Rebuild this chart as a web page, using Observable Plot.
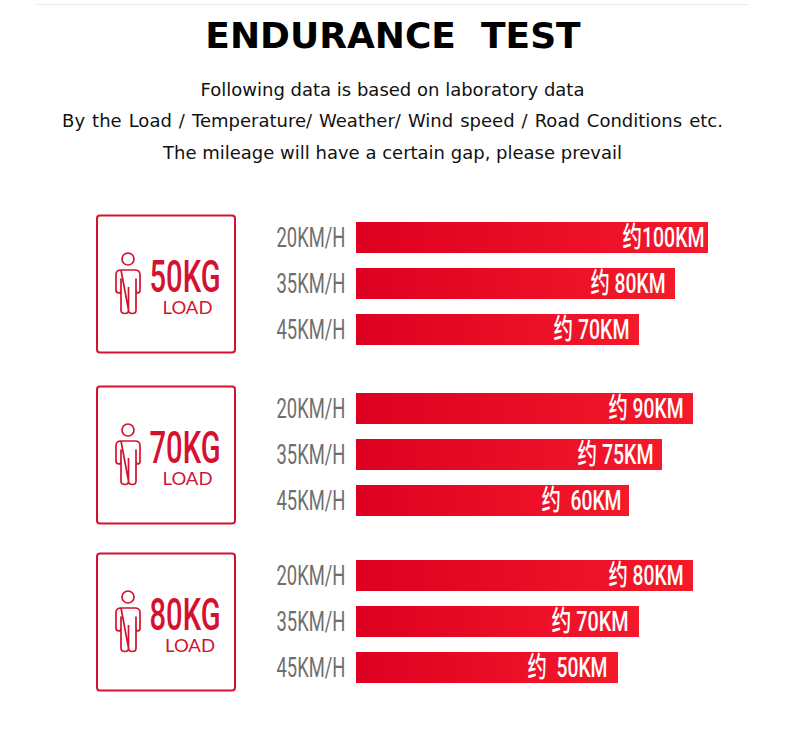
<!DOCTYPE html>
<html>
<head>
<meta charset="utf-8">
<script src="https://cdn.jsdelivr.net/npm/d3@7"></script>
<script src="https://cdn.jsdelivr.net/npm/@observablehq/plot@0.6"></script>
<style>
  html,body{margin:0;padding:0;background:#fff}
  #page{position:relative;width:790px;height:733px;overflow:hidden;font-family:"DejaVu Sans",sans-serif;color:#000}
  #rule{position:absolute;left:37px;width:711px;top:4px;height:1px;background:#e8e8e8}
  h1{position:absolute;left:0;width:786px;top:14px;margin:0;text-align:center;font-size:36px;line-height:44px;font-weight:700;white-space:pre}
  .sub{position:absolute;left:0;width:785px;margin:0;text-align:center;font-size:18px;line-height:24px;color:#111}
  #page svg{position:absolute;left:0;overflow:visible}
  .condensed text{white-space:pre}
</style>
</head>
<body>
<div id="page">
  <div id="rule"></div>
  <h1>ENDURANCE  TEST</h1>
  <p class="sub" style="top:78px">Following data is based on laboratory data</p>
  <p class="sub" style="top:109px;word-spacing:1.3px">By the Load / Temperature/ Weather/ Wind speed / Road Conditions etc.</p>
  <p class="sub" style="top:141px">The mileage will have a certain gap, please prevail</p>
</div>
<script>
const speeds = ["20KM/H", "35KM/H", "45KM/H"];
const loads = ["50KG", "70KG", "80KG"];
const loadCaptionX = [187, 187, 189.5];
const barLengths = [[352, 319, 283], [337, 306, 273], [337, 283, 262]];
const barLabels = [["约100KM", "约 80KM", "约 70KM"], ["约 90KM", "约 75KM", "约  60KM"], ["约 80KM", "约 70KM", "约  50KM"]];
const labelEnds = [[704, 665, 629], [683, 653, 621], [683, 628, 607]];
const labelWidths = [[82, 75, 76], [75, 76, 80], [75, 77, 80]];
const panelTops = [214, 385, 552];

const barStart = 356, red = "#d4122f", grey = "#6e6e6e";
const narrow = 'Roboto,"Noto Sans CJK SC",sans-serif';

function defs() {
  const s = d3.create("svg:g");
  const g = s.append("defs").append("linearGradient").attr("id", "barGrad");
  g.append("stop").attr("offset", "0").attr("stop-color", "#de0020");
  g.append("stop").attr("offset", "1").attr("stop-color", "#f5192b");
  return s.node();
}

function person(i, scales) {
  // outline glyph of a standing figure, placed relative to the card on the x scale
  const s = d3.create("svg:g").attr("fill", "none").attr("stroke", red).attr("stroke-width", 1.7)
    .attr("stroke-linejoin", "round")
    .attr("transform", `translate(${scales.x(128)},45)`);
  s.append("circle").attr("r", 6);
  s.append("path").attr("d",
    "M-7,11 H7 Q12,11 12,16 V31 Q12,34 10,34 Q8,34 8,31 V20 " +
    "V51 Q8,54.5 4.5,54.5 Q0.5,54.5 0.5,51 V28 " +
    "M0.5,51 Q0.5,54.5 -3,54.5 Q-7,54.5 -7,51 V20 " +
    "V31 Q-7,34 -9,34 Q-12,34 -12,31 V16 Q-12,11 -7,11 Z");
  return s.node();
}

const page = document.getElementById("page");
loads.forEach((load, g) => {
  const rows = speeds.map((speed, i) => ({
    speed,
    length: barLengths[g][i],
    label: barLabels[g][i],
    end: labelEnds[g][i],
    width: labelWidths[g][i]
  }));
  const svg = Plot.plot({
    width: 790,
    height: 140,
    marginTop: 0.5, marginBottom: 1.5, marginLeft: 0, marginRight: 0,
    style: {background: "transparent"},
    x: {domain: [0, 790], axis: null},
    y: {domain: speeds, paddingInner: 0.326, paddingOuter: 0.163, axis: null},
    marks: [
      defs,
      Plot.rect([load], {x1: () => 97, x2: () => 235, rx: 3, fill: "#fff", stroke: red, strokeWidth: 2, insetTop: 1, insetBottom: 0}),
      person,
      Plot.text([load], {x: () => 184.5, frameAnchor: "top", lineAnchor: "bottom", dy: 77, text: d => d, fill: red,
        fontFamily: narrow, fontSize: 43.5, fontWeight: 500, className: "condensed big"}),
      Plot.text(["LOAD"], {x: () => loadCaptionX[g], frameAnchor: "top", lineAnchor: "bottom", dy: 99, text: d => d, fill: red,
        fontFamily: '"Lato","Noto Sans",sans-serif', fontSize: 17, className: "load"}),
      Plot.text(rows, {x: () => 345, y: "speed", text: "speed", textAnchor: "end", fill: grey,
        fontFamily: narrow, fontSize: 28, className: "condensed speed"}),
      Plot.barX(rows, {x1: () => barStart, x2: d => barStart + d.length, y: "speed", fill: "url(#barGrad)"}),
      Plot.text(rows, {x: "end", y: "speed", text: "label", textAnchor: "end", fill: "#fff",
        fontFamily: narrow, fontSize: 28, fontWeight: 500, className: "condensed value"})
    ]
  });
  svg.style.top = panelTops[g] + "px";
  page.appendChild(svg);
  // The reference uses a condensed DIN-style face: squeeze the nearest installed face to its widths.
  const fit = (sel, w) => d3.select(svg).selectAll(sel + " text").each(function (_, i) {
    d3.select(this).attr("textLength", w(i)).attr("lengthAdjust", "spacingAndGlyphs");
  });
  fit(".big", () => 71);
  fit(".load", () => 50);
  fit(".speed", () => 69);
  fit(".value", i => rows[i].width);
});
</script>
</body>
</html>
